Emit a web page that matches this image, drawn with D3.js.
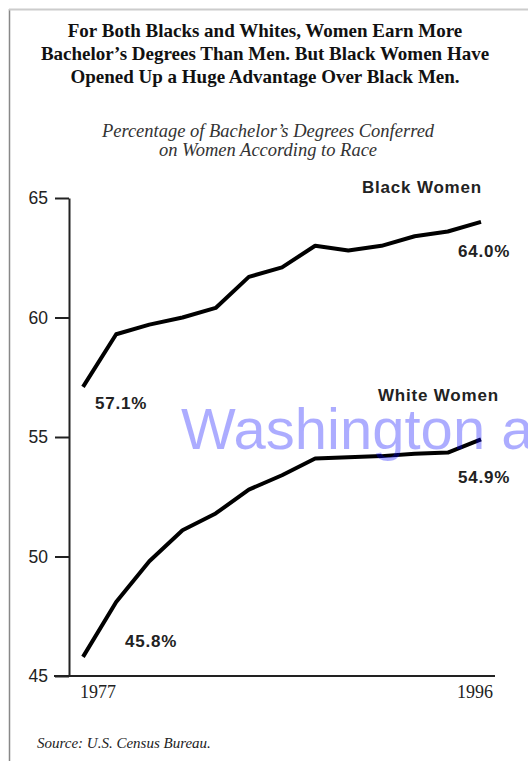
<!DOCTYPE html>
<html>
<head>
<meta charset="utf-8">
<script src="https://cdn.jsdelivr.net/npm/d3@7"></script>
<style>
  body { margin: 0; background: #fff; }
  svg { display: block; }
</style>
</head>
<body>
<div id="chart"></div>
<script>
// school years, plotted at equal spacing like the original
var years = ["1977","1979","1981","1985","1987","1989","1990","1991","1992","1993","1994","1995","1996"]
var blackWomen = [57.1, 59.3, 59.7, 60.0, 60.4, 61.7, 62.1, 63.0, 62.8, 63.0, 63.4, 63.6, 64.0]
var whiteWomen = [45.8, 48.1, 49.8, 51.1, 51.8, 52.8, 53.4, 54.1, 54.15, 54.2, 54.3, 54.35, 54.9]
var yTicks = [45, 50, 55, 60, 65]

var width = 528, height = 761

var svg = d3.select("#chart").append("svg")
    .attr("width", width)
    .attr("height", height)

// page frame
svg.append("line").attr("x1", 9.5).attr("x2", 9.5).attr("y1", 9).attr("y2", height)
    .style("stroke", "#888").style("stroke-width", 1.5)
svg.append("line").attr("x1", 9).attr("x2", width).attr("y1", 9.5).attr("y2", 9.5)
    .style("stroke", "#ccc").style("stroke-width", 2)

// headline
var title = ["For Both Blacks and Whites, Women Earn More",
             "Bachelor\u2019s Degrees Than Men. But Black Women Have",
             "Opened Up a Huge Advantage Over Black Men."]
svg.append("g").selectAll("text")
    .data(title)
    .enter().append("text")
    .attr("x", 265)
    .attr("y", function(d, i) { return 37 + i * 23 })
    .attr("text-anchor", "middle")
    .style("font-family", "'Liberation Serif', 'Times New Roman', serif")
    .style("font-weight", "bold")
    .style("font-size", "19px")
    .style("fill", "#111")
    .text(function(d) { return d })

var sub = ["Percentage of Bachelor\u2019s Degrees Conferred", "on Women According to Race"]
svg.append("g").selectAll("text")
    .data(sub)
    .enter().append("text")
    .attr("x", 268)
    .attr("y", function(d, i) { return 137 + i * 19 })
    .attr("text-anchor", "middle")
    .style("font-family", "'Liberation Serif', 'Times New Roman', serif")
    .style("font-style", "italic")
    .style("font-size", "18.5px")
    .style("fill", "#333")
    .text(function(d) { return d })

// scales
var x = d3.scalePoint().domain(years).range([83, 481])
var y = d3.scaleLinear().domain([45, 65]).range([676, 198])

// y axis
var yAxis = svg.append("g")
    .attr("transform", "translate(69,0)")
    .call(d3.axisLeft(y).tickValues(yTicks).tickSize(14).tickSizeOuter(0).tickPadding(7))
yAxis.select(".domain").style("stroke", "#222").style("stroke-width", 2)
yAxis.selectAll(".tick line").style("stroke", "#222").style("stroke-width", 2)
yAxis.selectAll(".tick text")
    .style("font-family", "'Liberation Sans', Arial, sans-serif")
    .style("font-size", "17.5px")
    .style("fill", "#222")

// x axis baseline
svg.append("line")
    .attr("x1", 54).attr("x2", 495)
    .attr("y1", y(45)).attr("y2", y(45))
    .style("stroke", "#222").style("stroke-width", 2)

svg.append("text")
    .attr("x", x(years[0]) - 3).attr("y", 698)
    .style("font-family", "'Liberation Serif', 'Times New Roman', serif")
    .style("font-size", "18px").style("fill", "#222")
    .text(years[0])
svg.append("text")
    .attr("x", x(years[years.length - 1]) + 12).attr("y", 698)
    .attr("text-anchor", "end")
    .style("font-family", "'Liberation Serif', 'Times New Roman', serif")
    .style("font-size", "18px").style("fill", "#222")
    .text(years[years.length - 1])

// lines
var line = d3.line()
    .x(function(d, i) { return x(years[i]) })
    .y(function(d) { return y(d) })

;[blackWomen, whiteWomen].forEach(function(s) {
    svg.append("path")
        .datum(s)
        .attr("d", line)
        .style("fill", "none")
        .style("stroke", "#000")
        .style("stroke-width", 4)
        .style("stroke-linejoin", "round")
})

// labels
var labels = [
    {t: "Black Women", x: 362, y: 193},
    {t: "White Women", x: 378, y: 401},
    {t: blackWomen[0].toFixed(1) + "%", x: 95, y: 409},
    {t: blackWomen[blackWomen.length - 1].toFixed(1) + "%", x: 458, y: 257},
    {t: whiteWomen[0].toFixed(1) + "%", x: 125, y: 647},
    {t: whiteWomen[whiteWomen.length - 1].toFixed(1) + "%", x: 458, y: 483}
]
svg.append("g").selectAll("text")
    .data(labels)
    .enter().append("text")
    .attr("x", function(d) { return d.x })
    .attr("y", function(d) { return d.y })
    .style("font-family", "'Liberation Sans', Arial, sans-serif")
    .style("font-weight", "bold")
    .style("font-size", "17px")
    .style("letter-spacing", "0.8px")
    .style("fill", "#222")
    .text(function(d) { return d.t })

// source
svg.append("text")
    .attr("x", 37).attr("y", 748)
    .style("font-family", "'Liberation Serif', 'Times New Roman', serif")
    .style("font-style", "italic")
    .style("font-size", "15px")
    .style("fill", "#222")
    .text("Source: U.S. Census Bureau.")

// watermark over the chart
svg.append("text")
    .attr("x", 181).attr("y", 449)
    .style("font-family", "'Liberation Sans', Arial, sans-serif")
    .style("font-size", "58px")
    .style("fill", "#0000ff")
    .style("opacity", 0.32)
    .text("Washington a")
</script>
</body>
</html>
